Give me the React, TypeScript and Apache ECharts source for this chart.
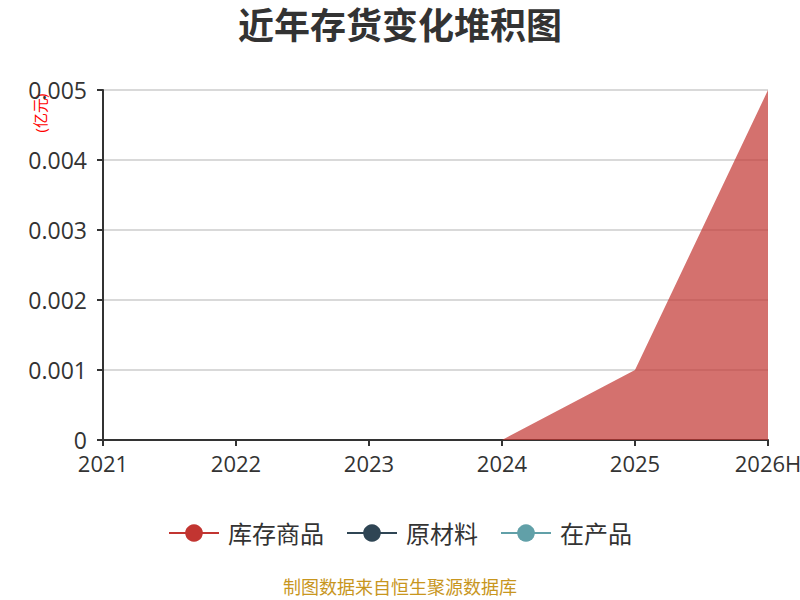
import React, { useEffect, useRef } from "react";
import * as echarts from "echarts";

const categories = ["2021", "2022", "2023", "2024", "2025", "2026H"];
const seriesNames = ["库存商品", "原材料", "在产品"];
const finishedGoods = [0, 0, 0, 0, 0.001, 0.005];
const rawMaterials = [0, 0, 0, 0, 0, 0];
const workInProgress = [0, 0, 0, 0, 0, 0];
const colors = ["#c23531", "#2f4554", "#61a0a8"];

const FONT = "'Open Sans', 'Noto Sans CJK SC', sans-serif";

export default function App() {
  const ref = useRef<HTMLDivElement>(null);
  useEffect(() => {
    if (!ref.current) return;
    const chart = echarts.init(ref.current, null, { renderer: "svg" });
    const mk = (name: string, data: number[], color: string) => ({
      name,
      type: "line",
      stack: "total",
      data,
      color,
      showSymbol: false,
      symbol: "circle",
      symbolSize: 22,
      lineStyle: { width: 1, opacity: 0 },
      areaStyle: { color, opacity: 0.7 },
    });
    chart.setOption({
      animation: false,
      color: colors,
      textStyle: { fontFamily: FONT },
      title: {
        text: "近年存货变化堆积图",
        left: "center",
        top: 2,
        textStyle: { fontSize: 36, fontWeight: "bold", color: "#333", fontFamily: FONT },
      },
      legend: {
        data: seriesNames,
        bottom: 50,
        left: "center",
        itemWidth: 50,
        itemHeight: 22,
        itemGap: 22,
        lineStyle: { opacity: 1, width: 2 },
        textStyle: { fontSize: 24, color: "#333", fontFamily: FONT, padding: [0, 0, 0, 4] },
      },
      grid: { left: 103, right: 32, top: 90, bottom: 160, containLabel: false, outerBoundsMode: "none" },
      xAxis: {
        type: "category",
        data: categories,
        boundaryGap: false,
        axisLine: { lineStyle: { color: "#333", width: 2 } },
        axisTick: { show: true, length: 6, lineStyle: { width: 2, color: "#333" } },
        axisLabel: { fontSize: 22, color: "#333", margin: 12, fontFamily: FONT },
      },
      yAxis: {
        type: "value",
        min: 0,
        max: 0.005,
        interval: 0.001,
        axisLine: { show: true, lineStyle: { color: "#333", width: 2 } },
        axisTick: { show: true, length: 6, lineStyle: { width: 2, color: "#333" } },
        axisLabel: { fontSize: 23, color: "#333", margin: 16, fontFamily: FONT },
        splitLine: { lineStyle: { color: "#ccc", width: 1.5 } },
      },
      graphic: [
        {
          type: "text",
          x: 40,
          y: 113,
          rotation: Math.PI / 2,
          style: {
            text: "(亿元)",
            fill: "#ff0000",
            fontSize: 15,
            fontFamily: FONT,
            align: "center",
            verticalAlign: "middle",
          },
        },
        {
          type: "text",
          left: "center",
          top: 578,
          style: {
            text: "制图数据来自恒生聚源数据库",
            fill: "#c8961e",
            fontSize: 18,
            fontFamily: FONT,
          },
        },
      ],
      series: [
        mk(seriesNames[0], finishedGoods, colors[0]),
        mk(seriesNames[1], rawMaterials, colors[1]),
        mk(seriesNames[2], workInProgress, colors[2]),
      ],
    });
    return () => chart.dispose();
  }, []);
  return <div ref={ref} style={{ width: 800, height: 600, position: "absolute", left: 0, top: 0 }} />;
}
